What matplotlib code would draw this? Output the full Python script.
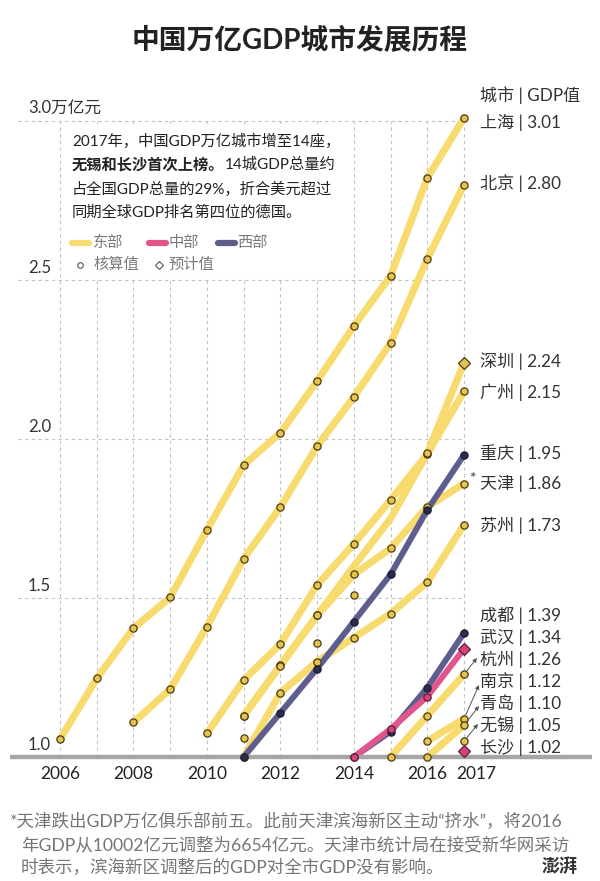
import matplotlib
matplotlib.use('Agg')
import matplotlib.pyplot as plt
from matplotlib.lines import Line2D
from matplotlib.patches import Rectangle

plt.rcParams['font.family'] = ['Lato', 'Noto Sans CJK SC', 'DejaVu Sans']

# ---------------- data (万亿元) ----------------
sh_years = [2006, 2007, 2008, 2009, 2010, 2011, 2012, 2013, 2014, 2015, 2016, 2017]
sh_vals = [1.056, 1.247, 1.405, 1.502, 1.714, 1.918, 2.019, 2.182, 2.355, 2.513, 2.821, 3.01]
bj_years = [2008, 2009, 2010, 2011, 2012, 2013, 2014, 2015, 2016, 2017]
bj_vals = [1.109, 1.213, 1.41, 1.623, 1.786, 1.978, 2.132, 2.302, 2.566, 2.80]
gz_years = [2010, 2011, 2012, 2013, 2014, 2015, 2016, 2017]
gz_vals = [1.074, 1.242, 1.355, 1.541, 1.67, 1.808, 1.953, 2.15]
sz_years = [2011, 2012, 2013, 2014, 2015, 2016, 2017]
sz_vals = [1.13, 1.29, 1.445, 1.60, 1.75, 1.955, 2.24]
tj_years = [2011, 2012, 2013, 2014, 2015, 2016, 2017]
tj_vals = [1.129, 1.287, 1.445, 1.574, 1.656, 1.787, 1.86]
su_years = [2011, 2012, 2013, 2014, 2015, 2016, 2017]
su_vals = [1.0, 1.202, 1.30, 1.375, 1.451, 1.55, 1.73]
cq_years = [2011, 2012, 2013, 2014, 2015, 2016, 2017]
cq_vals = [1.0, 1.139, 1.278, 1.426, 1.574, 1.777, 1.95]
cd_years = [2014, 2015, 2016, 2017]
cd_vals = [1.0, 1.08, 1.218, 1.39]
wh_years = [2014, 2015, 2016, 2017]
wh_vals = [1.0, 1.088, 1.19, 1.34]
hz_years = [2015, 2016, 2017]
hz_vals = [1.0, 1.13, 1.26]
nj_years = [2016, 2017]
nj_vals = [1.05, 1.12]
qd_years = [2016, 2017]
qd_vals = [1.0, 1.10]
wx_years = [2017]
wx_vals = [1.05]
cs_years = [2017]
cs_vals = [1.02]

# points shown without a line (核算值)
extra_years = [2011, 2013, 2014]
extra_vals = [1.06, 1.36, 1.51]
# years of the Shenzhen line that carry no marker
sz_unmarked = [2014, 2015]
# cities whose 2017 value is an estimate (预计值)
estimate_cities = ['深圳', '武汉', '长沙']

cities = [
    ('上海', '东部', sh_years, sh_vals),
    ('北京', '东部', bj_years, bj_vals),
    ('广州', '东部', gz_years, gz_vals),
    ('深圳', '东部', sz_years, sz_vals),
    ('天津', '东部', tj_years, tj_vals),
    ('苏州', '东部', su_years, su_vals),
    ('杭州', '东部', hz_years, hz_vals),
    ('南京', '东部', nj_years, nj_vals),
    ('青岛', '东部', qd_years, qd_vals),
    ('无锡', '东部', wx_years, wx_vals),
    ('重庆', '西部', cq_years, cq_vals),
    ('成都', '西部', cd_years, cd_vals),
    ('武汉', '中部', wh_years, wh_vals),
    ('长沙', '中部', cs_years, cs_vals),
]

y_ticks = [1.0, 1.5, 2.0, 2.5, 3.0]
y_tick_labels = ['1.0', '1.5', '2.0', '2.5', '3.0万亿元']
x_ticks = [2006, 2008, 2010, 2012, 2014, 2016, 2017]

# ---------------- styles ----------------
region_line = {'东部': '#F8DB6E', '中部': '#E3558A', '西部': '#5D5D8E'}
region_face = {'东部': '#E6C24E', '中部': '#D8447A', '西部': '#2B2B4C'}
region_edge = {'东部': '#4A3C17', '中部': '#5A1E3C', '西部': '#1C1C33'}
region_z = {'东部': 2, '西部': 3, '中部': 4}

W, H = 600, 881
PX_YEAR = 36.73
X2006 = 60
PX_UNIT = 318
Y1 = 757

fig = plt.figure(figsize=(W / 100, H / 100), dpi=100)
fig.patch.set_facecolor('white')
ax = fig.add_axes([0, 0, 1, 1])
ax.set_xlim(2006 - X2006 / PX_YEAR, 2006 + (W - X2006) / PX_YEAR)
ax.set_ylim(1 - (H - Y1) / PX_UNIT, 1 + Y1 / PX_UNIT)
ax.axis('off')


def fx(px):
    return px / W


def fy(py):
    return 1 - py / H


def year_of_px(px):
    return 2006 + (px - X2006) / PX_YEAR


# grid
grid_kw = dict(color='#C2C2C2', lw=0.8, linestyle=(0, (3, 3)), zorder=1)
for v in y_ticks[1:]:
    ax.plot([year_of_px(18), 2017], [v, v], **grid_kw)
for yr in range(2006, 2018):
    ax.plot([yr, yr], [1.0, 3.0], **grid_kw)

# baseline
ax.plot([year_of_px(10), year_of_px(592)], [1.0, 1.0], color='#A6A6A6', lw=3.2,
        solid_capstyle='butt', zorder=4.5)

# y tick labels
for v, lab in zip(y_ticks, y_tick_labels):
    ax.text(year_of_px(28), v + 4 / PX_UNIT, lab, fontsize=12, color='#333333',
            ha='left', va='bottom', zorder=6)

# x tick labels
for yr in x_ticks:
    px = X2006 + (yr - 2006) * PX_YEAR + (12 if yr == 2017 else 0)
    fig.text(fx(px), fy(774), str(yr), fontsize=12.5, color='#222222',
             ha='center', va='center')

# lines
for name, reg, yrs, vals in cities:
    if len(yrs) > 1:
        lw = 5.2 if reg == '东部' else 4.3
        ax.plot(yrs, vals, color=region_line[reg], lw=lw, solid_capstyle='round',
                solid_joinstyle='round', zorder=region_z[reg])

# markers
for name, reg, yrs, vals in cities:
    for i, (yr, v) in enumerate(zip(yrs, vals)):
        if name == '深圳' and yr in sz_unmarked:
            continue
        is_est = (name in estimate_cities and i == len(yrs) - 1)
        ax.plot([yr], [v], marker='D' if is_est else 'o',
                ms=6.2 if is_est else 5.2,
                mfc=region_face[reg], mec=region_edge[reg], mew=0.9,
                linestyle='none', zorder=5, clip_on=False)
for yr, v in zip(extra_years, extra_vals):
    ax.plot([yr], [v], marker='o', ms=5.2, mfc=region_face['东部'],
            mec=region_edge['东部'], mew=0.9, linestyle='none', zorder=5)

# right-side labels
label_y = {'上海': 122, '北京': 183, '深圳': 361, '广州': 392, '重庆': 453,
           '天津': 484, '苏州': 525, '成都': 615, '武汉': 637, '杭州': 659,
           '南京': 681, '青岛': 703, '无锡': 725, '长沙': 747}
fig.text(fx(480), fy(95), '城市 | GDP值', fontsize=12.3, color='#333333',
         ha='left', va='center')
for name, reg, yrs, vals in cities:
    fig.text(fx(480), fy(label_y[name]), f'{name} | {vals[-1]:.2f}',
             fontsize=12.3, color='#333333', ha='left', va='center')
fig.text(fx(472), fy(479), '*', fontsize=11, color='#333333', ha='center', va='center')

# arrows for the crowded labels
arrow_targets = {'杭州': (477, 658), '南京': (479, 685), '青岛': (479, 706), '无锡': (478, 724)}
for name, reg, yrs, vals in cities:
    if name in arrow_targets:
        tx, ty = arrow_targets[name]
        ax.annotate('', xy=(tx, H - ty), xycoords='figure pixels',
                    xytext=(yrs[-1], vals[-1]), textcoords='data',
                    arrowprops=dict(arrowstyle='-|>', color='#555555', lw=0.7,
                                    mutation_scale=6, shrinkA=3, shrinkB=0),
                    zorder=6)

# title
fig.text(0.5, fy(40), '中国万亿GDP城市发展历程', fontsize=20, fontweight='bold',
         color='#222222', ha='center', va='center')

# annotation box
fig.add_artist(Rectangle((fx(62), fy(278)), (340 - 62) / W, (278 - 126) / H,
                         transform=fig.transFigure, facecolor='white',
                         edgecolor='none', zorder=1.5))
txt_kw = dict(fontsize=11, color='#222222', ha='left', va='center', zorder=3)
fig.text(fx(72), fy(141), '2017年，中国GDP万亿城市增至14座，', **txt_kw)
tb = fig.text(fx(72), fy(165), '无锡和长沙首次上榜。', fontweight='bold', **txt_kw)
fig.canvas.draw()
bb = tb.get_window_extent(fig.canvas.get_renderer())
fig.text(bb.x1 / fig.bbox.width, fy(165), '14城GDP总量约', **txt_kw)
fig.text(fx(72), fy(189), '占全国GDP总量的29%，折合美元超过', **txt_kw)
fig.text(fx(72), fy(213), '同期全球GDP排名第四位的德国。', **txt_kw)

# legend
leg_kw = dict(fontsize=11, color='#7A7A7A', ha='left', va='center')
for (x0, x1, xt, reg) in [(72, 89, 93, '东部'), (149, 166, 169, '中部'), (218, 235, 237, '西部')]:
    fig.add_artist(Line2D([fx(x0), fx(x1)], [fy(243), fy(243)], transform=fig.transFigure,
                          color=region_line[reg], lw=4.5, solid_capstyle='round'))
    fig.text(fx(xt), fy(243), reg, **leg_kw)
fig.add_artist(Line2D([fx(80)], [fy(265)], transform=fig.transFigure, marker='o', ms=4,
                      mfc='white', mec='#555555', mew=0.8, linestyle='none'))
fig.text(fx(93), fy(265), '核算值', **leg_kw)
fig.add_artist(Line2D([fx(159)], [fy(265)], transform=fig.transFigure, marker='D', ms=4,
                      mfc='white', mec='#555555', mew=0.8, linestyle='none'))
fig.text(fx(168), fy(265), '预计值', **leg_kw)

# footnote
foot_kw = dict(fontsize=12.6, color='#757575', ha='left', va='center')
fig.text(fx(10), fy(822), '*天津跌出GDP万亿俱乐部前五。此前天津滨海新区主动“挤水”，将2016', **foot_kw)
fig.text(fx(21), fy(845), '年GDP从10002亿元调整为6654亿元。天津市统计局在接受新华网采访', **foot_kw)
fig.text(fx(21), fy(868), '时表示，滨海新区调整后的GDP对全市GDP没有影响。', **foot_kw)
fig.text(fx(560), fy(866), '澎湃', fontsize=13, fontweight='bold', color='#333333',
         ha='center', va='center', style='italic')

fig.savefig('out.png', dpi=100, facecolor='white')
